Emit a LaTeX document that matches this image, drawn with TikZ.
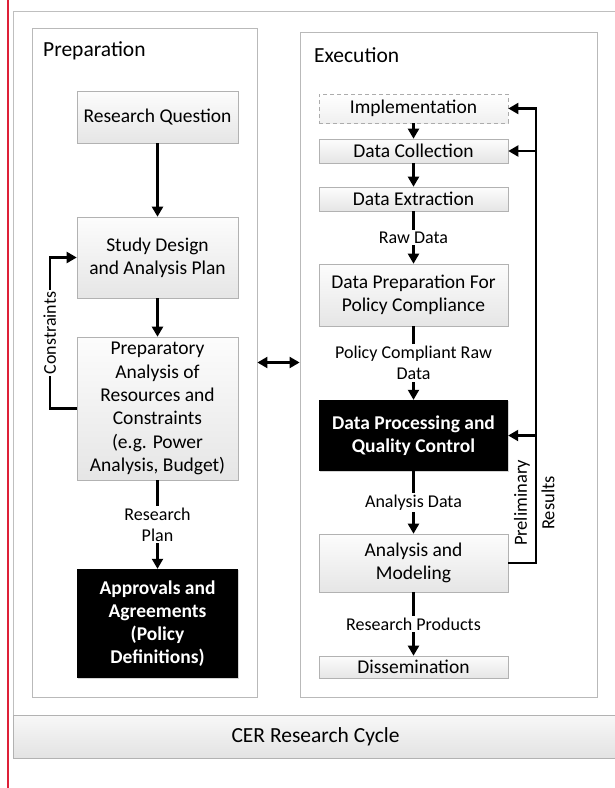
\documentclass[tikz,border=0pt]{standalone}
\usepackage{fontspec}
\setmainfont{Carlito}
\usetikzlibrary{arrows.meta,shadows}
\definecolor{redline}{RGB}{222,32,56}
\begin{document}
\begin{tikzpicture}[x=1pt,y=-1pt,
  >={Triangle[length=10pt,width=11pt]},
  conn/.style={line width=2.1pt},
  shad/.style={drop shadow={shadow xshift=1.3pt,shadow yshift=-1.3pt,fill=gray!60,opacity=0.55}},
  box/.style={shad,draw=gray!60,line width=0.6pt,top color=gray!2,bottom color=gray!20,
    align=center,inner sep=0pt,font=\fontsize{19.5}{23.3}\selectfont},
  dashbox/.style={draw=gray!65,line width=0.7pt,dash pattern=on 4pt off 3pt,top color=white,bottom color=gray!12,
    align=center,inner sep=0pt,font=\fontsize{19.5}{23.3}\selectfont},
  blk/.style={shad,fill=black,text=white,align=center,inner sep=0pt,font=\bfseries\fontsize{19.5}{23}\selectfont},
  lbl/.style={fill=white,inner sep=2pt,align=center,font=\fontsize{18}{21}\selectfont},
  panel/.style={shad,draw=gray!55,line width=0.8pt,fill=white,inner sep=0pt},
  ttl/.style={anchor=west,inner sep=0pt,font=\fontsize{21.5}{25}\selectfont}]
\useasboundingbox (0,0) rectangle (614,788);
% outer frame and red line
\draw[gray!50,line width=0.8pt] (620,11) -- (13,11) -- (13,758);
\draw[redline,line width=2.6pt] (8,0) -- (8,788);
\node[shad,draw=gray!60,line width=0.7pt,top color=gray!6,bottom color=gray!22,inner sep=0pt,
  minimum width=605pt,minimum height=43pt,font=\fontsize{21.5}{25}\selectfont] (cer) at (315.5,736.5) {CER Research Cycle};
% panels
\node[panel,minimum width=225pt,minimum height=669pt] (prep) at (144.5,362.5) {};
\node[panel,minimum width=297pt,minimum height=665pt] (exec) at (448.5,364.5) {};
\node[ttl] (tprep) at (43,51) {Preparation};
\node[ttl] (texec) at (314,55) {Execution};
% preparation column
\node[box,minimum width=161pt,minimum height=52pt] (rq) at (157.5,117) {Research Question};
\node[box,minimum width=161pt,minimum height=81pt] (sd) at (157.5,257.5) {Study Design\\and Analysis Plan};
\node[box,minimum width=161pt,minimum height=143pt] (pa) at (157.5,408.5) {Preparatory\\Analysis of\\Resources and\\Constraints\\(e.g. Power\\Analysis, Budget)};
\node[blk,minimum width=161pt,minimum height=109pt] (ap) at (157.5,623.5) {Approvals and\\Agreements\\(Policy\\Definitions)};
% execution column
\node[dashbox,minimum width=189pt,minimum height=29pt] (impl) at (413.5,108.5) {Implementation};
\node[box,minimum width=189pt,minimum height=24pt] (dc) at (413.5,151) {Data Collection};
\node[box,minimum width=189pt,minimum height=24pt] (de) at (413.5,199) {Data Extraction};
\node[box,minimum width=189pt,minimum height=62pt] (dp) at (413.5,295) {Data Preparation For\\Policy Compliance};
\node[blk,minimum width=189pt,minimum height=71pt] (dq) at (413.5,435.5) {Data Processing and\\Quality Control};
\node[box,minimum width=189pt,minimum height=58pt] (am) at (413.5,563) {Analysis and\\Modeling};
\node[box,minimum width=189pt,minimum height=22pt] (ds) at (413.5,667) {Dissemination};
% preparation connectors
\draw[conn,->] (rq) -- (sd);
\draw[conn,->] (sd) -- (pa);
\draw[conn,->] (pa) -- node[lbl] {Research\\Plan} (ap);
\draw[conn,->] (pa.west) -- ++(-27,0) coordinate (cl) |- node[lbl,rotate=90,pos=0.25] {Constraints} (sd.west);
\draw[conn,<->] (prep.east) -- (prep.east -| exec.west);
% execution connectors
\draw[conn,->] (impl) -- (dc);
\draw[conn,->] (dc) -- (de);
\draw[conn,->] (de) -- node[lbl] {Raw Data} (dp);
\draw[conn,->] (dp) -- node[lbl] {Policy Compliant Raw\\Data} (dq);
\draw[conn,->] (dq) -- node[lbl] {Analysis Data} (am);
\draw[conn,->] (am) -- node[lbl] {Research Products} (ds);
% feedback
\draw[conn,->] (am.east) -- ++(28,0) coordinate (fb) |- (impl.east);
\draw[conn,->] (fb |- dc.east) -- (dc.east);
\draw[conn,->] (fb |- dq.east) -- (dq.east);
\node[rotate=90,inner sep=0pt,font=\fontsize{18.5}{21}\selectfont] (prelim) at (522,503) {Preliminary};
\node[rotate=90,inner sep=0pt,font=\fontsize{18.5}{21}\selectfont] (res) at (548,503) {Results};
\end{tikzpicture}
\end{document}
